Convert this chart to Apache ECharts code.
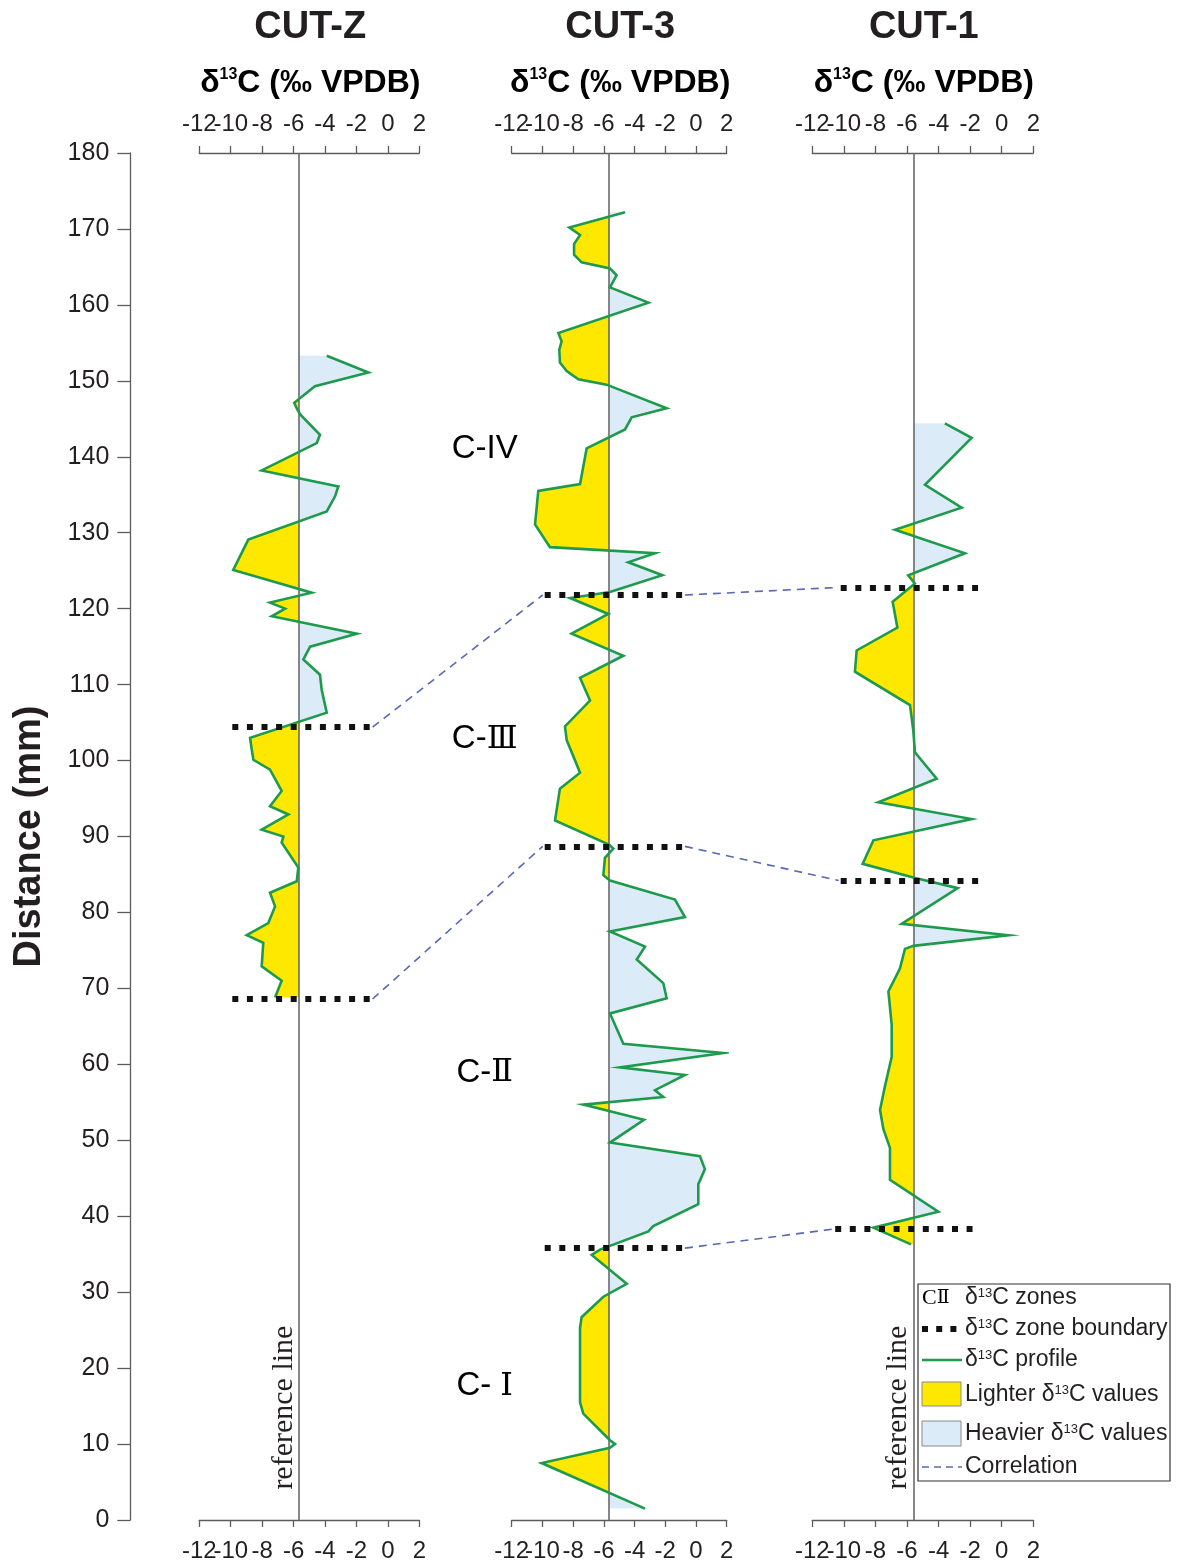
<!DOCTYPE html>
<html>
<head>
<meta charset="utf-8">
<script src="https://cdn.jsdelivr.net/npm/echarts@6/dist/echarts.min.js"></script>
<style>
  html, body { margin: 0; padding: 0; background: #fff; }
  #chart { width: 1177px; height: 1563px; }
</style>
</head>
<body>
<div id="chart"></div>
<script>
// ---- data -------------------------------------------------------------
const columns = ['CUT-Z', 'CUT-3', 'CUT-1'];
const refValues = [-5.65, -5.65, -5.6];           // reference δ13C per profile

// [δ13C ‰ VPDB, distance mm], ordered from top to bottom of the profile
const profileCUTZ = [
  [-3.89,153.3],[-1.24,151.1],[-4.64,149.3],[-5.96,147.1],[-5.76,146.2],[-5.55,145.5],
  [-4.32,142.9],[-4.53,141.8],[-8.03,138.2],[-3.15,136.1],[-3.36,134.8],[-3.89,132.8],
  [-8.88,129.1],[-9.84,125.1],[-4.85,122.1],[-7.5,120.8],[-6.54,120.0],[-7.39,119.0],
  [-1.98,116.7],[-4.95,115.0],[-5.38,113.3],[-4.32,111.3],[-4.21,109.3],[-3.89,106.3],
  [-8.77,103.0],[-8.66,101.4],[-8.56,100.1],[-7.5,98.8],[-6.76,96.0],[-7.5,94.0],
  [-6.33,92.9],[-8.03,90.9],[-6.65,90.0],[-6.76,89.2],[-5.7,85.9],[-5.8,84.1],
  [-7.5,82.6],[-7.18,80.8],[-7.61,78.6],[-8.98,77.0],[-7.93,76.0],[-8.03,72.9],
  [-6.76,71.0],[-7.18,68.8]
];
const profileCUT3 = [
  [-4.62,172.2],[-8.25,170.2],[-7.55,169.2],[-7.94,168.0],[-7.94,166.6],[-7.45,165.6],
  [-5.60,164.8],[-5.17,163.9],[-5.60,162.3],[-3.10,160.3],[-8.96,156.3],[-8.75,155.2],
  [-8.90,154.1],[-8.86,152.4],[-8.42,151.3],[-7.66,150.2],[-5.82,149.5],[-1.91,146.4],
  [-4.19,145.2],[-4.62,143.6],[-7.12,141.1],[-7.55,136.4],[-10.27,135.5],[-10.48,131.1],
  [-9.51,128.1],[-2.67,127.3],[-4.41,126.1],[-2.19,124.4],[-5.60,122.2],[-8.20,121.4],
  [-5.71,119.3],[-8.10,116.7],[-4.73,113.8],[-7.55,110.9],[-6.90,107.9],[-8.53,104.5],
  [-8.42,102.7],[-7.55,98.4],[-8.86,96.3],[-9.18,92.1],[-5.64,88.9],[-5.38,88.4],
  [-5.93,87.2],[-6.03,84.9],[-5.60,84.2],[-1.37,81.7],[-0.72,79.4],[-5.60,77.5],
  [-3.32,75.5],[-3.86,73.8],[-2.13,70.7],[-1.91,68.7],[-5.60,66.7],[-4.73,62.7],
  [1.78,61.5],[-4.95,59.6],[-0.72,58.6],[-2.67,56.6],[-2.13,55.7],[-7.34,54.7],
  [-3.39,52.7],[-5.60,49.7],[0.26,47.9],[0.58,46.2],[0.15,44.2],[0.15,41.6],
  [-2.78,38.7],[-3.10,38.0],[-6.25,35.6],[-6.79,34.9],[-4.51,31.1],[-6.03,29.4],
  [-7.45,26.7],[-7.55,25.3],[-7.55,15.5],[-7.34,14.0],[-5.60,10.5],[-5.27,10.0],
  [-5.60,9.5],[-10.05,7.5],[-3.32,1.5]
];
const profileCUT1 = [
  [-3.60,144.4],[-1.91,142.5],[-4.86,136.3],[-2.54,133.3],[-6.76,130.4],[-2.33,127.3],
  [-5.92,124.4],[-5.50,123.3],[-6.91,120.9],[-6.61,117.5],[-9.19,114.5],[-9.30,111.7],
  [-5.81,107.3],[-5.60,103.9],[-5.50,101.1],[-4.12,97.6],[-7.82,94.5],[-1.91,92.3],
  [-8.13,89.5],[-8.81,86.4],[-5.60,84.6],[-2.79,83.2],[-6.34,78.5],[0.42,77.0],
  [-5.60,75.6],[-6.13,75.2],[-6.45,72.6],[-7.18,69.6],[-6.97,65.2],[-6.97,61.0],
  [-7.40,57.1],[-7.71,54.0],[-7.50,51.5],[-7.08,49.0],[-7.08,44.8],[-4.02,40.6],
  [-8.13,38.5],[-5.75,36.3]
];
const profiles = [profileCUTZ, profileCUT3, profileCUT1];

// zone boundaries (distance, mm) and the δ13C span of each dotted marker
const boundariesCUTZ = [104.4, 68.6];
const boundariesCUT3 = [121.8, 88.7, 35.8];
const boundariesCUT1 = [122.8, 84.2, 38.3];
const boundaryDepths = [boundariesCUTZ, boundariesCUT3, boundariesCUT1];
const boundarySpans = [
  [[-9.9, -1.1], [-9.9, -1.1]],
  [[-9.85, -0.85], [-9.85, -0.85], [-9.85, -0.85]],
  [[-10.2, -1.5], [-10.2, -1.4], [-10.55, -1.85]]
];
// correlated boundaries: [column, boundary index] -> [column, boundary index]
const correlations = [
  [[0, 0], [1, 0]],
  [[0, 1], [1, 1]],
  [[1, 0], [2, 0]],
  [[1, 1], [2, 1]],
  [[1, 2], [2, 2]]
];
const zonePrefixes = ['C-', 'C-', 'C-', 'C- '];
const zoneNumerals = ['IV', 'Ⅲ', 'Ⅱ', 'Ⅰ'];
const zoneLabelDepths = [141.1, 102.8, 58.9, 17.6];
const deltaRange = [-12, 2];
const deltaTicks = [-12, -10, -8, -6, -4, -2, 0, 2];
const depthRange = [0, 180];

// ---- styling ------------------------------------------------------------
const SANS = "'Liberation Sans', Arial, sans-serif";
const SERIF = "'Liberation Serif', 'Times New Roman', serif";
const NUMERAL = "'DejaVu Serif', 'Liberation Serif', serif";
const TEXT = '#231f20';
const AXIS = '#5c5c5c';
const LIGHTER = '#ffe800';
const HEAVIER = '#dcebf8';
const PROFILE = '#1e9a4c';
const CORREL = '#5868b4';

const gridBoxes = [
  { left: 199.3, width: 220 },
  { left: 511.7, width: 215 },
  { left: 812.3, width: 221 }
];

const chart = echarts.init(document.getElementById('chart'), null, { renderer: 'canvas' });

// The tick labels are packed tightly, so alternate ticks are labelled by two
// coincident axes (the second one draws labels only).
function xAxisFor(i, pos, parity) {
  const isMain = parity === 0;
  return {
    gridIndex: i, type: 'value', position: pos,
    min: deltaRange[0], max: deltaRange[1], interval: 2,
    axisLine: { show: isMain, onZero: false, lineStyle: { color: AXIS, width: 1.3 } },
    axisTick: { show: isMain, inside: false, length: 7, lineStyle: { color: AXIS, width: 1.3 } },
    axisLabel: {
      show: true, fontSize: 24, color: TEXT, fontFamily: SANS,
      margin: pos === 'top' ? 17 : 19,
      showMinLabel: true, showMaxLabel: true, hideOverlap: false,
      formatter: v => (deltaTicks.indexOf(v) % 2 === parity ? String(v) : '')
    },
    splitLine: { show: false }
  };
}

const grid = gridBoxes.map(g => ({ left: g.left, width: g.width, top: 153, bottom: 42 }));
const xAxis = [];
gridBoxes.forEach((g, i) => {
  xAxis.push(xAxisFor(i, 'top', 0));
  xAxis.push(xAxisFor(i, 'top', 1));
  xAxis.push(xAxisFor(i, 'bottom', 0));
  xAxis.push(xAxisFor(i, 'bottom', 1));
});
const xIdx = i => 4 * i;
const yAxis = gridBoxes.map((g, i) => ({
  gridIndex: i, type: 'value', min: depthRange[0], max: depthRange[1], interval: 10,
  show: i === 0, position: 'left', offset: 69,
  name: i === 0 ? 'Distance (mm)' : '', nameLocation: 'middle', nameGap: 82, nameRotate: 90,
  nameTextStyle: { fontSize: 38, fontWeight: 'bold', color: TEXT, fontFamily: SANS },
  axisLine: { show: true, onZero: false, lineStyle: { color: AXIS, width: 1.3 } },
  axisTick: { show: true, length: 13, lineStyle: { color: AXIS, width: 1.3 } },
  axisLabel: { fontSize: 25, color: TEXT, fontFamily: SANS, margin: 21, showMinLabel: true, showMaxLabel: true },
  splitLine: { show: false }
}));

const series = [];
profiles.forEach((prof, i) => {
  const ref = refValues[i];
  // shaded area between the profile and the reference line
  series.push({
    type: 'custom', name: columns[i] + ' fill', xAxisIndex: xIdx(i), yAxisIndex: i,
    data: [[ref, prof[0][1]]], z: 2, silent: true,
    renderItem: (params, api) => {
      const pts = prof.map(p => api.coord(p));
      const top = api.coord([ref, prof[0][1]]);
      const bot = api.coord([ref, prof[prof.length - 1][1]]);
      const rx = top[0];
      return {
        type: 'polygon',
        shape: { points: pts.concat([bot, top]) },
        style: {
          fill: new echarts.graphic.LinearGradient(rx - 0.5, 0, rx + 0.5, 0, [
            { offset: 0, color: LIGHTER }, { offset: 0.5, color: LIGHTER },
            { offset: 0.5, color: HEAVIER }, { offset: 1, color: HEAVIER }
          ], true),
          stroke: null
        }
      };
    }
  });
  // reference line
  series.push({
    type: 'line', name: columns[i] + ' reference', xAxisIndex: xIdx(i), yAxisIndex: i,
    data: [], z: 3, silent: true,
    markLine: {
      silent: true, symbol: 'none', z: 3, animation: false,
      label: { show: false },
      lineStyle: { color: '#6a6a6a', width: 1.6, type: 'solid' },
      data: [{ xAxis: ref }]
    }
  });
  // δ13C profile with zone boundaries
  series.push({
    type: 'line', name: columns[i] + ' profile', xAxisIndex: xIdx(i), yAxisIndex: i,
    data: prof, showSymbol: false, symbol: 'none', z: 4, silent: true,
    lineStyle: { color: PROFILE, width: 2.6, join: 'miter' },
    markLine: {
      silent: true, symbol: 'none', z: 8, animation: false,
      label: { show: false },
      lineStyle: { color: '#111', width: 6, type: [6, 8.6], cap: 'butt' },
      data: boundaryDepths[i].map((d, k) => [
        { coord: [boundarySpans[i][k][0], d] },
        { coord: [boundarySpans[i][k][1], d] }
      ])
    }
  });
});

// legend box
const legendX = 918, legendY = 1284;
const legendRich = {
  n: { fontSize: 23, fontFamily: SANS, color: TEXT },
  s: { fontSize: 13, fontFamily: SANS, color: TEXT, verticalAlign: 'top', padding: [0, 0, 8, 0] }
};
const legendText = (y, text) => ({
  type: 'text', x: 965, y: y, z: 11,
  style: { text: text, fill: TEXT, verticalAlign: 'middle', rich: legendRich }
});
const legend = [
  { type: 'rect', shape: { x: legendX, y: legendY, width: 252, height: 197 },
    style: { fill: '#fff', stroke: '#333', lineWidth: 1.2 }, z: 10 },
  { type: 'text', x: 922, y: 1298, z: 11,
    style: {
      text: '{c|C}{r|Ⅱ}', verticalAlign: 'middle',
      rich: {
        c: { fontSize: 22, fontFamily: SERIF, color: TEXT },
        r: { fontSize: 19, fontFamily: NUMERAL, color: TEXT }
      }
    } },
  legendText(1298, '{n|δ}{s|13}{n|C zones}'),
  { type: 'line', shape: { x1: 922, y1: 1329, x2: 961, y2: 1329 }, z: 11,
    style: { stroke: '#111', lineWidth: 6, lineDash: [6, 8.2] } },
  legendText(1329, '{n|δ}{s|13}{n|C zone boundary}'),
  { type: 'line', shape: { x1: 922, y1: 1360, x2: 962, y2: 1360 }, z: 11,
    style: { stroke: PROFILE, lineWidth: 2.6 } },
  legendText(1360, '{n|δ}{s|13}{n|C profile}'),
  { type: 'rect', shape: { x: 922, y: 1382, width: 39, height: 24 }, z: 11,
    style: { fill: LIGHTER, stroke: '#8a8a8a', lineWidth: 1 } },
  legendText(1395, '{n|Lighter δ}{s|13}{n|C values}'),
  { type: 'rect', shape: { x: 922, y: 1421, width: 39, height: 25 }, z: 11,
    style: { fill: HEAVIER, stroke: '#8a8a8a', lineWidth: 1 } },
  legendText(1434, '{n|Heavier δ}{s|13}{n|C values}'),
  { type: 'line', shape: { x1: 922, y1: 1467, x2: 962, y2: 1467 }, z: 11,
    style: { stroke: CORREL, lineWidth: 1.6, lineDash: [7, 5] } },
  legendText(1467, '{n|Correlation}')
];

// column headings
const headings = [];
gridBoxes.forEach((g, i) => {
  const cx = g.left + g.width / 2;
  headings.push({
    type: 'text', x: cx + 1, y: 28,
    style: { text: columns[i], font: 'bold 38px ' + SANS, fill: TEXT, align: 'center', verticalAlign: 'middle' }
  });
  headings.push({
    type: 'text', x: cx + 1, y: 83,
    style: {
      text: '{d|δ}{s|13}{d|C (‰ VPDB)}', align: 'center', verticalAlign: 'middle',
      rich: {
        d: { fontSize: 32, fontWeight: 'bold', fontFamily: SANS, color: TEXT },
        s: { fontSize: 16, fontWeight: 'bold', fontFamily: SANS, color: TEXT, verticalAlign: 'top', padding: [0, 0, 11, 0] }
      }
    }
  });
});

chart.setOption({
  animation: false,
  backgroundColor: '#fff',
  grid: grid,
  xAxis: xAxis,
  yAxis: yAxis,
  series: series,
  graphic: { elements: headings.concat(legend) }
});

// ---- elements placed from the axes' scales ----------------------------------
const toPx = (col, v, d) => chart.convertToPixel({ xAxisIndex: xIdx(col), yAxisIndex: col }, [v, d]);
const extra = [];
correlations.forEach(([a, b]) => {
  const p1 = toPx(a[0], boundarySpans[a[0]][a[1]][1], boundaryDepths[a[0]][a[1]]);
  const p2 = toPx(b[0], boundarySpans[b[0]][b[1]][0], boundaryDepths[b[0]][b[1]]);
  extra.push({
    type: 'line', shape: { x1: p1[0] + 2, y1: p1[1], x2: p2[0] - 2, y2: p2[1] }, z: 6,
    style: { stroke: CORREL, lineWidth: 1.6, lineDash: [8, 6] }
  });
});
zoneNumerals.forEach((num, k) => {
  const y = toPx(1, 0, zoneLabelDepths[k])[1];
  extra.push({
    type: 'text', x: gridBoxes[1].left - 27, y: y,
    style: {
      text: '{c|' + zonePrefixes[k] + '}{r|' + num + '}', align: 'center', verticalAlign: 'middle',
      rich: {
        c: { fontSize: 33, fontFamily: SANS, color: TEXT },
        r: { fontSize: k === 0 ? 33 : 32, fontFamily: k === 0 ? SANS : NUMERAL, color: TEXT }
      }
    }
  });
});
[0, 2].forEach(col => {
  const p = toPx(col, refValues[col], 14.8);
  extra.push({
    type: 'text', x: p[0], y: p[1], rotation: Math.PI / 2,
    style: { text: 'reference line', font: '30px ' + SERIF, fill: TEXT, align: 'center', verticalAlign: 'bottom' }
  });
});
chart.setOption({ graphic: { elements: headings.concat(legend, extra) } });
</script>
</body>
</html>
